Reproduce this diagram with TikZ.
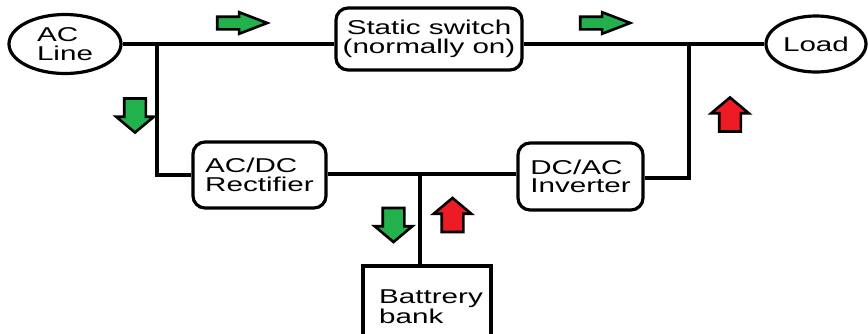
\documentclass[tikz,border=0pt]{standalone}
\usepackage{fontspec}
\setmainfont{Liberation Sans}[FakeStretch=1.48]
\usepackage{tikz}
\usetikzlibrary{shapes.geometric, shapes.arrows, backgrounds}
\definecolor{pgreen}{RGB}{34,177,76}
\definecolor{pred}{RGB}{237,28,36}

\begin{document}
\begin{tikzpicture}[
    x=1pt, y=-1pt,
    font=\fontsize{20}{18.5}\selectfont,
    wire/.style={line width=3.5pt},
    box/.style={draw, line width=3.2pt, rounded corners=12pt, fill=white, align=left, inner sep=0pt},
    oval/.style={draw, ellipse, line width=3.2pt, fill=white, align=left, inner sep=0pt},
    flow/.style={single arrow, draw=black, line width=2.6pt, inner xsep=0pt, single arrow head indent=0pt},
    rflow/.style={flow, fill=pgreen, inner ysep=5pt, minimum height=50pt, single arrow head extend=4.5pt, single arrow tip angle=42},
    dflow/.style={flow, inner ysep=9.5pt, minimum height=34pt, single arrow head extend=8pt, single arrow tip angle=100},
]
    \useasboundingbox (0,0) rectangle (868,333);
    \clip (0,0) rectangle (868,333);

    % nodes
    \node[oval, minimum width=112pt, minimum height=59pt] (acline) at (65,44) {AC\\Line};
    \node[box, minimum width=186pt, minimum height=62pt, align=center] (switch) at (429,39) {Static switch\\(normally on)};
    \node[oval, minimum width=100pt, minimum height=56pt] (load) at (816,44) {Load};
    \node[box, minimum width=133pt, minimum height=66pt] (rect) at (259.5,175) {AC/DC\\Rectifier};
    \node[box, minimum width=125pt, minimum height=67pt] (inv) at (580.5,176.5) {DC/AC\\Inverter};
    \node[draw, line width=3.2pt, fill=white, align=left, minimum width=128pt, minimum height=82pt] (batt) at (427,307) {\hspace*{8pt}Battrery\\\hspace*{8pt}bank};

    \coordinate (j1) at (157,44);
    \coordinate (j2) at (689,44);
    \coordinate (j3) at (420,174);

    % wires
    \begin{scope}[on background layer]
    \draw[wire] (acline.east) -- (switch.west |- acline.east);
    \draw[wire] (switch.east |- load.west) -- (load.west);
    \draw[wire, line join=miter] (j1) |- (rect.west);
    \draw[wire] (rect.east |- j3) -- (inv.west |- j3);
    \draw[wire, line join=miter] (inv.east |- 0,178) -| (j2);
    \draw[wire] (j3) -- (j3 |- batt.north);
    \end{scope}

    % power flow arrows
    \node[rflow] (f1) at (234,23) {};
    \node[rflow] (f2) at (597,23) {};
    \node[dflow, fill=pgreen, rotate=-90] (f3) at (135,111) {};
    \node[dflow, fill=pred, rotate=90] (f4) at (730,119) {};
    \node[dflow, fill=pgreen, rotate=-90] (f5) at (393.5,220.5) {};
    \node[dflow, fill=pred, rotate=90] (f6) at (452.5,219.5) {};
\end{tikzpicture}
\end{document}
